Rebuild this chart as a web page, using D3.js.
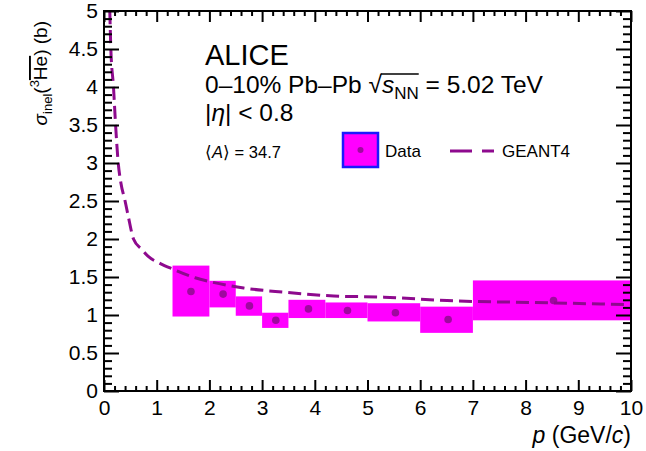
<!DOCTYPE html>
<meta charset="utf-8">
<script src="https://cdn.jsdelivr.net/npm/d3@7"></script>
<style>
  body { margin: 0; background: #fff; }
  text { font-family: "Liberation Sans", Arial, sans-serif; fill: #000; }
</style>
<div id="chart"></div>
<script>
// data: sigma_inel(3He-bar) vs p
var binLo = [1.3, 2.0, 2.5, 3.0, 3.5, 4.2, 5.0, 6.0, 7.0];
var binHi = [2.0, 2.5, 3.0, 3.5, 4.2, 5.0, 6.0, 7.0, 10.0];
var pMean = [1.65, 2.26, 2.76, 3.26, 3.88, 4.62, 5.53, 6.53, 8.53];
var sigma = [1.31, 1.275, 1.12, 0.93, 1.08, 1.06, 1.03, 0.94, 1.19];
var sysLo = [0.98, 1.10, 0.99, 0.83, 0.96, 0.96, 0.915, 0.765, 0.93];
var sysHi = [1.65, 1.45, 1.245, 1.03, 1.20, 1.165, 1.155, 1.11, 1.455];

// GEANT4 curve
var geantP = [0.11, 0.13, 0.18, 0.22, 0.27, 0.32, 0.40, 0.46, 0.56, 0.72, 0.84, 1.06, 1.32, 1.73, 2.0, 2.65, 3.41, 4.36, 5.31, 6.51, 8.5, 10.0];
var geantS = [5.0, 4.5, 4.0, 3.5, 3.0, 2.74, 2.5, 2.30, 2.0, 1.86, 1.77, 1.68, 1.60, 1.49, 1.44, 1.355, 1.30, 1.25, 1.235, 1.19, 1.16, 1.135];

var xTicks = d3.range(0, 11, 1);
var yTicks = d3.range(0, 5.01, 0.5);

var margin = { top: 11, right: 15, bottom: 60, left: 104 };
var W = 646, H = 451;
var width = W - margin.left - margin.right;
var height = H - margin.top - margin.bottom;

var svg = d3.select("#chart").append("svg")
    .attr("width", W)
    .attr("height", H)
    .append("g")
    .attr("transform", "translate(" + margin.left + "," + margin.top + ")");

var x = d3.scaleLinear().domain([0, 10]).range([0, width]);
var y = d3.scaleLinear().domain([0, 5]).range([height, 0]);

var magenta = "#ff00ff";
var purple = "#8e0a8e";

svg.append("clipPath").attr("id", "clip")
    .append("rect").attr("width", width).attr("height", height);

var plot = svg.append("g").attr("clip-path", "url(#clip)");

// systematic boxes
var bins = binLo.map((d, i) => ({ lo: d, hi: binHi[i], p: pMean[i], s: sigma[i], sl: sysLo[i], sh: sysHi[i] }));

plot.selectAll("rect.sys").data(bins).enter().append("rect")
    .attr("class", "sys")
    .attr("x", d => x(d.lo))
    .attr("width", d => x(d.hi) - x(d.lo))
    .attr("y", d => y(d.sh))
    .attr("height", d => y(d.sl) - y(d.sh))
    .attr("fill", magenta);

plot.selectAll("circle.pt").data(bins).enter().append("circle")
    .attr("class", "pt")
    .attr("cx", d => x(d.p))
    .attr("cy", d => y(d.s))
    .attr("r", 3.8)
    .attr("fill", purple)
    .attr("opacity", 0.85);

// GEANT4 dashed curve
var line = d3.line()
    .x(d => x(d[0]))
    .y(d => y(d[1]))
    .curve(d3.curveMonotoneX);

plot.append("path")
    .datum(geantP.map((p, i) => [p, geantS[i]]))
    .attr("fill", "none")
    .attr("stroke", purple)
    .attr("stroke-width", 3)
    .attr("stroke-dasharray", "13,6")
    .attr("d", line);

// frame and ticks (ROOT style, ticks inside on all sides)
function styleAxis(g) {
    g.select(".domain").remove();
    g.selectAll(".tick line").attr("stroke", "#000").attr("stroke-width", 2);
    g.selectAll(".tick text").style("font-family", "'Liberation Sans', Arial, sans-serif").style("font-size", "21px").attr("fill", "#000");
}

var xMinor = d3.range(0, 10.001, 0.2).filter(v => Math.abs(v - Math.round(v)) > 1e-6);
var yMinor = d3.range(0, 5.001, 0.1).filter(v => Math.abs(v * 2 - Math.round(v * 2)) > 1e-6);

// bottom
svg.append("g").attr("transform", "translate(0," + height + ")")
    .call(d3.axisBottom(x).tickValues(xTicks).tickSize(-11).tickPadding(9).tickFormat(d3.format("d")))
    .call(styleAxis);
svg.append("g").attr("transform", "translate(0," + height + ")")
    .call(d3.axisBottom(x).tickValues(xMinor).tickSize(-5).tickFormat(""))
    .call(styleAxis);
// top
svg.append("g")
    .call(d3.axisTop(x).tickValues(xTicks).tickSize(-11).tickFormat(""))
    .call(styleAxis);
svg.append("g")
    .call(d3.axisTop(x).tickValues(xMinor).tickSize(-5).tickFormat(""))
    .call(styleAxis);
// left
svg.append("g")
    .call(d3.axisLeft(y).tickValues(yTicks).tickSize(-15).tickPadding(6).tickFormat(d => d === 0 ? "0" : d3.format("")(d)))
    .call(styleAxis);
svg.append("g")
    .call(d3.axisLeft(y).tickValues(yMinor).tickSize(-8).tickFormat(""))
    .call(styleAxis);
// right
svg.append("g").attr("transform", "translate(" + width + ",0)")
    .call(d3.axisRight(y).tickValues(yTicks).tickSize(-15).tickFormat(""))
    .call(styleAxis);
svg.append("g").attr("transform", "translate(" + width + ",0)")
    .call(d3.axisRight(y).tickValues(yMinor).tickSize(-8).tickFormat(""))
    .call(styleAxis);

svg.append("rect")
    .attr("width", width).attr("height", height)
    .attr("fill", "none").attr("stroke", "#000").attr("stroke-width", 2);

// axis titles
var xl = svg.append("text")
    .attr("x", width).attr("y", 443 - margin.top)
    .attr("text-anchor", "end")
    .style("font-size", "23px");
xl.append("tspan").style("font-style", "italic").text("p");
xl.append("tspan").text(" (GeV/");
xl.append("tspan").style("font-style", "italic").text("c");
xl.append("tspan").text(")");

var yl = svg.append("text")
    .attr("transform", "translate(" + (47 - margin.left) + "," + (21 - margin.top) + ") rotate(-90)")
    .attr("text-anchor", "end")
    .style("font-size", "19px");
yl.append("tspan").style("font-style", "italic").text("σ");
yl.append("tspan").attr("dy", 5).style("font-size", "13px").text("inel");
yl.append("tspan").attr("dy", -5).text("(");
yl.append("tspan").attr("dy", -8).style("font-size", "13px").text("3");
yl.append("tspan").attr("dy", 8).style("text-decoration", "overline").text("He");
yl.append("tspan").text(") (b)");

// annotations
var tx = 205 - margin.left;
svg.append("text").attr("x", tx).attr("y", 65 - margin.top)
    .style("font-size", "29px").text("ALICE");

var t2 = svg.append("text").attr("x", tx).attr("y", 93 - margin.top)
    .style("font-size", "24.5px");
t2.append("tspan").text("0–10% Pb–Pb ");
t2.append("tspan").text("√");
t2.append("tspan").style("font-style", "italic").text("s");
t2.append("tspan").attr("dy", 6).style("font-size", "17px").text("NN");
t2.append("tspan").attr("dy", -6).text(" = 5.02 TeV");
// vinculum over s_NN
var t2n = t2.node();
var str = t2n.textContent;
var iS = str.indexOf("s");
var iN = str.indexOf("NN") + 1;
var x0 = t2n.getStartPositionOfChar(iS).x - 1;
var x1 = t2n.getEndPositionOfChar(iN).x;
svg.append("line")
    .attr("x1", x0).attr("x2", x1)
    .attr("y1", 93 - margin.top - 19).attr("y2", 93 - margin.top - 19)
    .attr("stroke", "#000").attr("stroke-width", 1.3);

var t3 = svg.append("text").attr("x", tx).attr("y", 121 - margin.top)
    .style("font-size", "24.5px");
t3.append("tspan").text("|");
t3.append("tspan").style("font-style", "italic").text("η");
t3.append("tspan").text("| < 0.8");

var t4 = svg.append("text").attr("x", tx).attr("y", 158 - margin.top)
    .style("font-size", "16.5px");
t4.append("tspan").text("⟨");
t4.append("tspan").style("font-style", "italic").text("A");
t4.append("tspan").text("⟩ = 34.7");

// legend
var lg = svg.append("g").attr("transform", "translate(" + (343 - margin.left) + "," + (133 - margin.top) + ")");
lg.append("rect").attr("width", 35).attr("height", 34)
    .attr("fill", magenta).attr("stroke", "#1a1aff").attr("stroke-width", 2.5);
lg.append("circle").attr("cx", 17.5).attr("cy", 17).attr("r", 3).attr("fill", purple).attr("opacity", 0.85);
lg.append("text").attr("x", 42).attr("y", 23.5).style("font-size", "17px").text("Data");
lg.append("line").attr("x1", 107).attr("x2", 151).attr("y1", 18).attr("y2", 18)
    .attr("stroke", purple).attr("stroke-width", 3).attr("stroke-dasharray", "22,10");
lg.append("text").attr("x", 159).attr("y", 23.5).style("font-size", "17px").text("GEANT4");
</script>
